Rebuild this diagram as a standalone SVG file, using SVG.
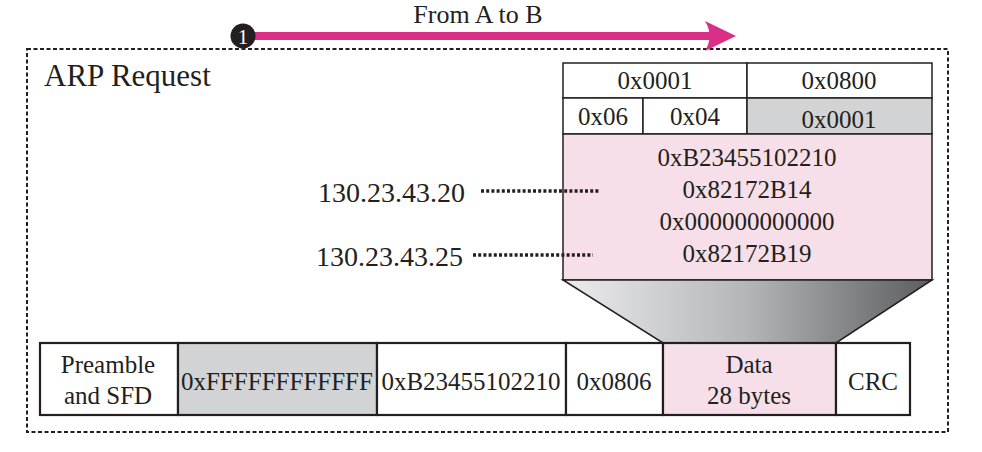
<svg xmlns="http://www.w3.org/2000/svg" width="982" height="452" viewBox="0 0 982 452">
<defs>
<linearGradient id="g" x1="0" y1="0" x2="1" y2="0">
<stop offset="0" stop-color="#ececed"/>
<stop offset="0.5" stop-color="#b4b5b8"/>
<stop offset="1" stop-color="#5c5d60"/>
</linearGradient>
</defs>
<style>
text{font-family:"Liberation Serif","Times New Roman",serif;fill:#231f20;text-anchor:middle}
.c{stroke:#231f20;stroke-width:1.5}
.b{stroke:#231f20;stroke-width:2.2}
.w{fill:#fff}
.g{fill:#d1d3d4}
.p{fill:#f6dfe8}
.f{font-size:25px}
.dot{stroke:#231f20;stroke-width:3.5;stroke-dasharray:3 2.2;fill:none}
</style>
<rect width="982" height="452" fill="#fff"/>
<rect x="27" y="49" width="921" height="383" fill="none" stroke="#231f20" stroke-width="2" stroke-dasharray="4 2.5"/>
<text x="478" y="23" style="font-size:26px">From A to B</text>
<g id="arrow">
<rect x="243" y="32" width="468" height="8" fill="#da2f87"/>
<path d="M705,21 L736,36 L705,51 Q714,36 705,21 Z" fill="#da2f87"/>
<circle cx="243" cy="36" r="12.5" fill="#231f20"/>
<text x="243" y="44" style="font-size:21px;fill:#fff">1</text>
</g>
<text x="44" y="86" style="font-size:31px;text-anchor:start">ARP Request</text>
<g id="arp-table">
<rect class="c w" x="563" y="63" width="184" height="35"/>
<rect class="c w" x="747" y="63" width="185" height="35"/>
<rect class="c w" x="563" y="98" width="80" height="36"/>
<rect class="c w" x="643" y="98" width="104" height="36"/>
<rect class="c g" x="747" y="98" width="185" height="36"/>
<rect class="c p" x="563" y="134" width="369" height="146"/>
<text class="f" x="655" y="89">0x0001</text>
<text class="f" x="839" y="89">0x0800</text>
<text class="f" x="603" y="125">0x06</text>
<text class="f" x="695" y="125">0x04</text>
<text class="f" x="839" y="128">0x0001</text>
<text class="f" x="747" y="166">0xB23455102210</text>
<text class="f" x="747" y="198">0x82172B14</text>
<text class="f" x="747" y="230">0x000000000000</text>
<text class="f" x="747" y="262">0x82172B19</text>
</g>
<g id="labels">
<text x="465" y="202" style="font-size:28px;text-anchor:end">130.23.43.20</text>
<text x="463" y="266" style="font-size:28px;text-anchor:end">130.23.43.25</text>
</g>
<g id="connectors">
<line class="dot" x1="481" y1="191" x2="600" y2="191"/>
<line class="dot" x1="473" y1="255" x2="593" y2="255"/>
<path d="M563,280 L932,280 L836,343 L663,343 Z" fill="url(#g)" stroke="#231f20" stroke-width="1.5"/>
</g>
<g id="frame">
<rect class="b w" x="40" y="343" width="138" height="72"/>
<rect class="b g" x="178" y="343" width="199" height="72"/>
<rect class="b w" x="377" y="343" width="189" height="72"/>
<rect class="b w" x="566" y="343" width="97" height="72"/>
<rect class="b p" x="663" y="343" width="173" height="72"/>
<rect class="b w" x="836" y="343" width="74" height="72"/>
<text class="f" x="108" y="373">Preamble</text>
<text class="f" x="108" y="404">and SFD</text>
<text class="f" x="277" y="390">0xFFFFFFFFFFFF</text>
<text class="f" x="471" y="390">0xB23455102210</text>
<text class="f" x="614" y="390">0x0806</text>
<text class="f" x="749" y="373">Data</text>
<text class="f" x="749" y="404">28 bytes</text>
<text class="f" x="873" y="390">CRC</text>
</g>
</svg>
